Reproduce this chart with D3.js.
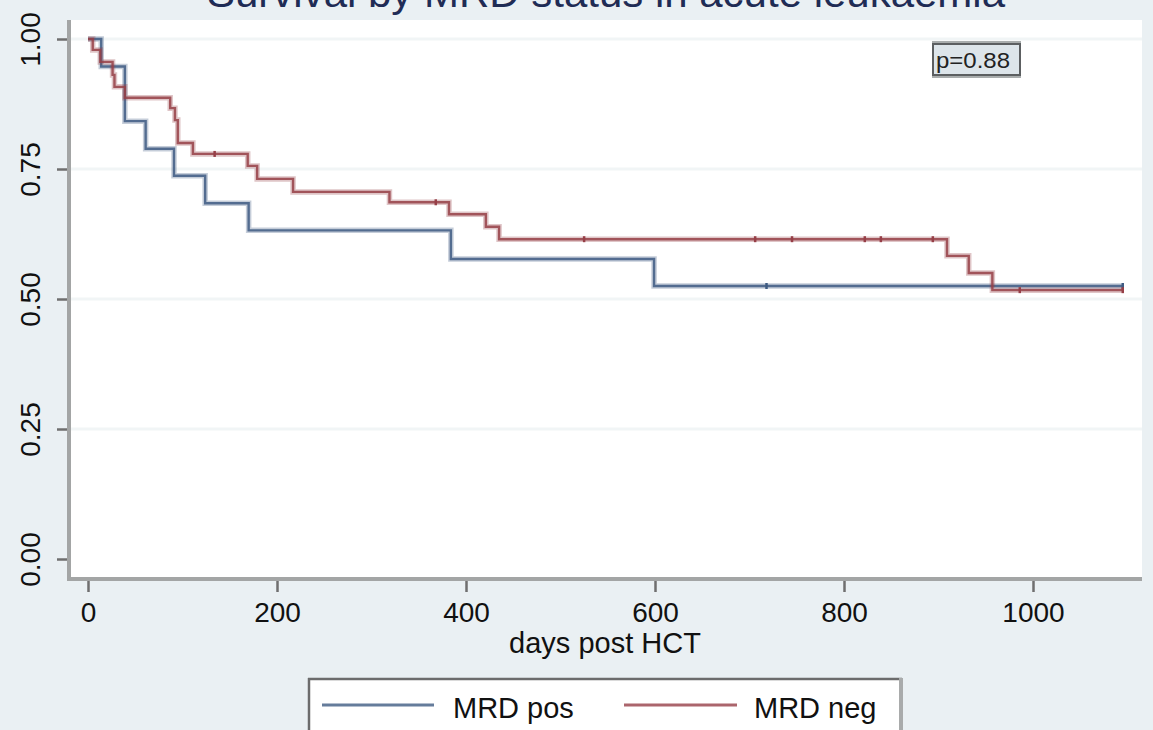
<!DOCTYPE html>
<html>
<head>
<meta charset="utf-8">
<script src="https://cdn.jsdelivr.net/npm/d3@7"></script>
<style>
  html, body { margin: 0; padding: 0; background: #eaf0f3; }
  svg { display: block; }
  text { font-family: "Liberation Sans", Arial, sans-serif; }
</style>
</head>
<body>
<svg id="chart" width="1153" height="730"></svg>
<script>
// Kaplan-Meier step data: time (days) at which survival drops, and survival after the drop
const posTimes = [0, 14, 39, 61, 91, 124, 170, 384, 599, 1095];
const posSurv  = [1.000, 0.947, 0.842, 0.789, 0.737, 0.684, 0.632, 0.577, 0.525, 0.525];
const posCensor = [718, 1095];

const negTimes = [0, 5, 13, 26, 28, 39, 87, 92, 95, 111, 169, 179, 217, 319, 382, 421, 435, 909, 932, 957, 1095];
const negSurv  = [1.000, 0.979, 0.956, 0.931, 0.908, 0.887, 0.867, 0.844, 0.800, 0.779, 0.756, 0.731, 0.706, 0.686, 0.663, 0.639, 0.615, 0.583, 0.550, 0.517, 0.517];
const negCensor = [134, 368, 525, 706, 745, 822, 839, 894, 986, 1095];

const seriesNames = ["MRD pos", "MRD neg"];
const xTicks = [0, 200, 400, 600, 800, 1000];
const yTicks = [0, 0.25, 0.5, 0.75, 1];
const titleText = "Survival by MRD status in acute leukaemia";
const xTitle = "days post HCT";
const pLabel = "p=0.88";

const colors = { pos: "#3e5b82", neg: "#963f47" };

const svg = d3.select("#chart");

// plot region
const plot = { left: 69, right: 1142, top: 20, bottom: 579 };
const x = d3.scaleLinear().domain([0, 1000]).range([88, 1033]);
const y = d3.scaleLinear().domain([0, 1]).range([559, 39]);

svg.append("rect")
  .attr("x", plot.left).attr("y", plot.top)
  .attr("width", plot.right - plot.left).attr("height", plot.bottom - plot.top)
  .attr("fill", "#ffffff");

// horizontal grid
svg.append("g").selectAll("line")
  .data(yTicks.filter(d => d > 0))
  .join("line")
  .attr("x1", plot.left).attr("x2", plot.right)
  .attr("y1", d => y(d)).attr("y2", d => y(d))
  .attr("stroke", "#f1f5f6").attr("stroke-width", 3);

// title (runs off the top edge)
svg.append("text")
  .attr("x", 606).attr("y", 7)
  .attr("text-anchor", "middle")
  .attr("font-size", 40)
  .attr("fill", "#1f2c55")
  .attr("textLength", 798)
  .attr("lengthAdjust", "spacingAndGlyphs")
  .text(titleText);

// y axis
const yAxis = svg.append("g")
  .attr("transform", `translate(${plot.left},0)`)
  .call(d3.axisLeft(y).tickValues(yTicks).tickFormat(d3.format(".2f")).tickSize(12).tickPadding(0));
yAxis.select(".domain").remove();
yAxis.selectAll(".tick line").attr("stroke", "#6f6f6f").attr("stroke-width", 2.5);
yAxis.selectAll(".tick text")
  .attr("font-size", 28)
  .attr("fill", "#111")
  .attr("text-anchor", "middle")
  .attr("dy", null)
  .attr("x", null)
  .attr("transform", "translate(-36,0) rotate(-90)")
  .attr("dominant-baseline", "middle")
  .attr("font-family", "'Liberation Sans', Arial, sans-serif");

// x axis
const xAxis = svg.append("g")
  .attr("transform", `translate(0,${plot.bottom})`)
  .call(d3.axisBottom(x).tickValues(xTicks).tickFormat(d3.format("d")).tickSize(13).tickPadding(10));
xAxis.select(".domain").remove();
xAxis.selectAll(".tick line").attr("stroke", "#6f6f6f").attr("stroke-width", 2.5);
xAxis.selectAll(".tick text")
  .attr("font-size", 28)
  .attr("fill", "#111")
  .attr("font-family", "'Liberation Sans', Arial, sans-serif");

// axis lines
svg.append("line")
  .attr("x1", plot.left).attr("x2", plot.left)
  .attr("y1", plot.top).attr("y2", plot.bottom + 2)
  .attr("stroke", "#a3a5a5").attr("stroke-width", 4);
svg.append("line")
  .attr("x1", plot.left).attr("x2", plot.right)
  .attr("y1", plot.bottom).attr("y2", plot.bottom)
  .attr("stroke", "#a3a5a5").attr("stroke-width", 4);

svg.append("text")
  .attr("x", 605).attr("y", 653)
  .attr("text-anchor", "middle")
  .attr("font-size", 29)
  .attr("fill", "#111")
  .text(xTitle);

// survival curves
const step = d3.line().x(d => x(d[0])).y(d => y(d[1])).curve(d3.curveStepAfter);
function survAt(times, surv, t) {
  let s = surv[0];
  for (let i = 0; i < times.length; i++) if (times[i] <= t) s = surv[i];
  return s;
}
function drawCurve(times, surv, censor, color) {
  const pts = times.map((t, i) => [t, surv[i]]);
  const g = svg.append("g");
  g.append("path").datum(pts).attr("d", step)
    .attr("fill", "none").attr("stroke", color).attr("stroke-opacity", 0.3)
    .attr("stroke-width", 5.5);
  g.append("path").datum(pts).attr("d", step)
    .attr("fill", "none").attr("stroke", color).attr("stroke-opacity", 0.85)
    .attr("stroke-width", 2.4);
  g.selectAll("line.c").data(censor).join("line")
    .attr("class", "c")
    .attr("x1", d => x(d)).attr("x2", d => x(d))
    .attr("y1", d => y(survAt(times, surv, d)) - 3)
    .attr("y2", d => y(survAt(times, surv, d)) + 3)
    .attr("stroke", color).attr("stroke-width", 2.5);
}
drawCurve(posTimes, posSurv, posCensor, colors.pos);
drawCurve(negTimes, negSurv, negCensor, colors.neg);

// p-value box
const pb = svg.append("g");
pb.append("rect").attr("x", 932).attr("y", 41).attr("width", 89).attr("height", 37)
  .attr("fill", "#a9adad");
pb.append("rect").attr("x", 933).attr("y", 44).attr("width", 87).attr("height", 31)
  .attr("fill", "#dde5ea").attr("stroke", "#5c5f61").attr("stroke-width", 2);
pb.append("text").attr("x", 973).attr("y", 68)
  .attr("text-anchor", "middle").attr("font-size", 22).attr("fill", "#222")
  .attr("textLength", 74).attr("lengthAdjust", "spacingAndGlyphs")
  .text(pLabel);

// legend
const lg = svg.append("g");
lg.append("rect").attr("x", 308).attr("y", 678).attr("width", 594).attr("height", 60)
  .attr("fill", "#ffffff");
lg.append("line").attr("x1", 308).attr("x2", 902).attr("y1", 679).attr("y2", 679)
  .attr("stroke", "#6c6c6c").attr("stroke-width", 2.5);
lg.append("line").attr("x1", 309).attr("x2", 309).attr("y1", 678).attr("y2", 730)
  .attr("stroke", "#6c6c6c").attr("stroke-width", 2.5);
lg.append("line").attr("x1", 901).attr("x2", 901).attr("y1", 678).attr("y2", 730)
  .attr("stroke", "#a9abab").attr("stroke-width", 4);
const legendItems = [
  { name: seriesNames[0], color: colors.pos, x1: 322, x2: 434, tx: 453 },
  { name: seriesNames[1], color: colors.neg, x1: 624, x2: 737, tx: 754 }
];
legendItems.forEach(it => {
  lg.append("line").attr("x1", it.x1).attr("x2", it.x2).attr("y1", 705).attr("y2", 705)
    .attr("stroke", it.color).attr("stroke-width", 3).attr("stroke-opacity", 0.8);
  lg.append("text").attr("x", it.tx).attr("y", 718)
    .attr("font-size", 29).attr("fill", "#111").text(it.name);
});
</script>
</body>
</html>
